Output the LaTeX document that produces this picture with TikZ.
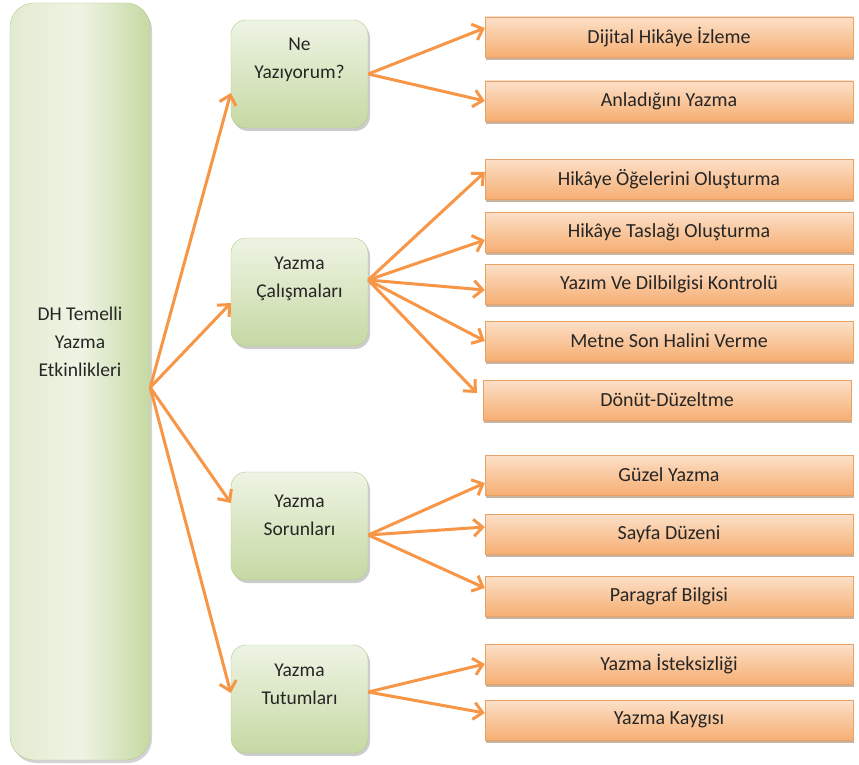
\documentclass[tikz,border=0pt]{standalone}
\usepackage{fontspec}
\setmainfont{Carlito}
\usetikzlibrary{positioning,arrows.meta,shadows}

\definecolor{greenL}{HTML}{EEF4E4}
\definecolor{greenM}{HTML}{E2EBD1}
\definecolor{greenD}{HTML}{C6D9A3}
\definecolor{greenEdge}{HTML}{B3C98D}
\definecolor{orangeT}{HTML}{FCE0C8}
\definecolor{orangeB}{HTML}{F6AE72}
\definecolor{orangeEdge}{HTML}{E7A266}
\definecolor{linkorange}{HTML}{F79646}
\definecolor{textgrey}{HTML}{262626}

\begin{document}
\begin{tikzpicture}[x=1pt,y=-1pt,
    mainbox/.style={rectangle, rounded corners=24pt, draw=greenEdge, thin, left color=greenM, right color=greenD, middle color=greenL, minimum width=140pt, minimum height=757pt, drop shadow={shadow xshift=2pt, shadow yshift=-3pt, opacity=0.35}},
    subbox/.style={rectangle, rounded corners=15pt, draw=greenEdge, thin, top color=greenL, bottom color=greenD, minimum width=137pt, minimum height=108pt, drop shadow={shadow xshift=2pt, shadow yshift=-3pt, opacity=0.4}},
    leafbox/.style={rectangle, draw=orangeEdge, thin, top color=orangeT, bottom color=orangeB, minimum width=368pt, minimum height=40pt, text=textgrey, font=\fontsize{20pt}{22pt}\selectfont, drop shadow={shadow xshift=1pt, shadow yshift=-3pt, opacity=0.45, fill=brown!70!black}},
    boxtext/.style={align=center, text=textgrey, font=\fontsize{19.5pt}{28pt}\selectfont},
    link/.style={draw=linkorange, line width=3pt, -{Straight Barb[length=9pt,width=17pt]}}]

    \useasboundingbox (0,0) rectangle (859,765);

    % root
    \node[mainbox] (main) at (80,381.5) {};
    \node[boxtext] (main-t) at ([yshift=40pt]main.center) {DH Temelli\\Yazma\\Etkinlikleri};

    % second level
    \node[subbox] (ne) at (299.5,74) {};
    \node[boxtext] (ne-t) at ([yshift=14pt]ne.center) {Ne\\Yazıyorum?};
    \node[subbox] (cal) at (299.5,292) {};
    \node[boxtext] (cal-t) at ([yshift=13pt]cal.center) {Yazma\\Çalışmaları};
    \node[subbox] (sor) at (299.5,526) {};
    \node[boxtext] (sor-t) at ([yshift=11pt]sor.center) {Yazma\\Sorunları};
    \node[subbox] (tut) at (299.5,699) {};
    \node[boxtext] (tut-t) at ([yshift=15pt]tut.center) {Yazma\\Tutumları};

    % leaves
    \node[leafbox] (ne1) at (669,37) {Dijital Hikâye İzleme};
    \node[leafbox] (ne2) at (669,101) {Anladığını Yazma};
    \node[leafbox] (cal1) at (669,179) {Hikâye Öğelerini Oluşturma};
    \node[leafbox] (cal2) at (669,232) {Hikâye Taslağı Oluşturma};
    \node[leafbox] (cal3) at (669,284) {Yazım Ve Dilbilgisi Kontrolü};
    \node[leafbox] (cal4) at (669,341) {Metne Son Halini Verme};
    \node[leafbox] (cal5) at (667,400) {Dönüt-Düzeltme};
    \node[leafbox] (sor1) at (669,475) {Güzel Yazma};
    \node[leafbox] (sor2) at (669,534) {Sayfa Düzeni};
    \node[leafbox] (sor3) at (669,596) {Paragraf Bilgisi};
    \node[leafbox] (tut1) at (669,664) {Yazma İsteksizliği};
    \node[leafbox] (tut2) at (669,720) {Yazma Kaygısı};

    % links
    \draw[link] ([yshift=-6pt]main.east) -- ([yshift=-19pt]ne.west);
    \draw[link] ([yshift=-6pt]main.east) -- ([yshift=-11pt]cal.west);
    \draw[link] ([yshift=-6pt]main.east) -- ([yshift=23pt]sor.west);
    \draw[link] ([yshift=-6pt]main.east) -- ([yshift=6pt]tut.west);

    \draw[link] (ne.east) -- ([yshift=9pt]ne1.west);
    \draw[link] (ne.east) -- (ne2.west);

    \draw[link] ([yshift=12pt]cal.east) -- ([yshift=7pt]cal1.west);
    \draw[link] ([yshift=12pt]cal.east) -- ([yshift=-8pt]cal2.west);
    \draw[link] ([yshift=12pt]cal.east) -- ([yshift=-6pt]cal3.west);
    \draw[link] ([yshift=12pt]cal.east) -- (cal4.west);
    \draw[link] ([yshift=12pt]cal.east) -- ([xshift=-6pt,yshift=7pt]cal5.west);

    \draw[link] ([yshift=-9pt]sor.east) -- ([yshift=-8pt]sor1.west);
    \draw[link] ([yshift=-9pt]sor.east) -- ([yshift=7pt]sor2.west);
    \draw[link] ([yshift=-9pt]sor.east) -- ([yshift=8pt]sor3.west);

    \draw[link] ([yshift=7pt]tut.east) -- (tut1.west);
    \draw[link] ([yshift=7pt]tut.east) -- ([yshift=7pt]tut2.west);

\end{tikzpicture}
\end{document}
